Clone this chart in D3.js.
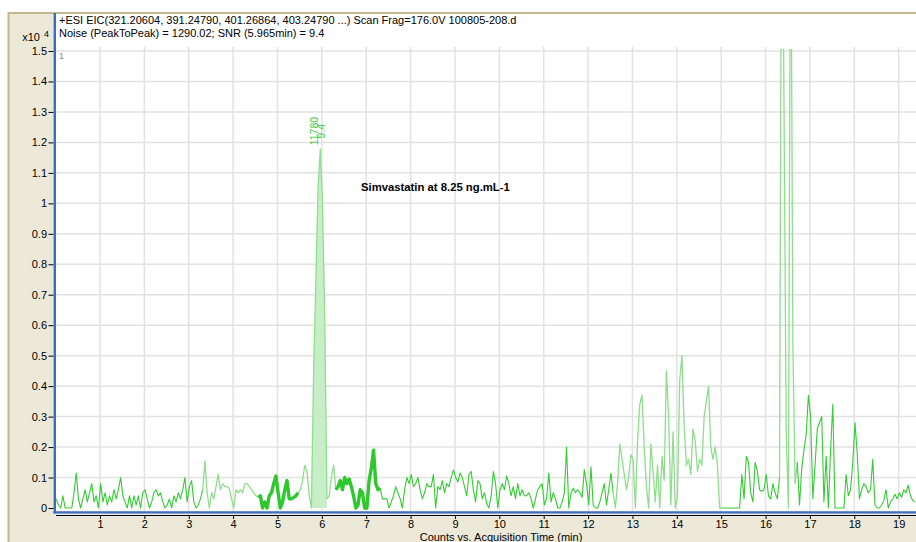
<!DOCTYPE html>
<html>
<head>
<meta charset="utf-8">
<script src="https://cdn.jsdelivr.net/npm/d3@7"></script>
<style>
  html, body { margin: 0; padding: 0; background: #fff; }
  svg { display: block; font-family: "Liberation Sans", Arial, sans-serif; }
</style>
</head>
<body>
<svg id="chart" width="916" height="542"></svg>
<script>
// Extracted ion chromatogram, intensities in counts x10^4, one scan every 0.05 min
const scanStart = 0.015;
const scanStep = 0.05;
const intensity = [
  0.03,0.01,0.00,0.04,0.00,0.00,0.00,0.00,0.05,0.115,0.03,0.00,0.03,0.06,0.02,0.05,0.08,0.02,0.04,0.00,
  0.08,0.02,0.05,0.01,0.04,0.02,0.06,0.03,0.06,0.10,0.04,0.02,0.00,0.04,0.00,0.04,0.01,0.04,0.00,0.05,
  0.06,0.03,0.00,0.02,0.05,0.06,0.04,0.05,0.02,0.00,0.01,0.03,0.00,0.04,0.02,0.05,0.03,0.06,0.10,0.02,
  0.07,0.09,0.02,0.00,0.01,0.03,0.06,0.155,0.05,0.00,0.05,0.03,0.07,0.11,0.06,0.08,0.07,0.07,0.065,0.03,
  0.00,0.06,0.05,0.06,0.05,0.08,0.08,0.07,0.06,0.05,0.04,0.035,0.04,0.00,0.02,0.00,0.04,0.05,0.08,0.105,
  0.05,0.00,0.02,0.06,0.09,0.03,0.03,0.035,0.04,0.05,0.06,0.09,0.14,0.12,0.04,0.00,0.45,0.74,1.05,1.178,
  1.00,0.62,0.03,0.04,0.10,0.14,0.06,0.07,0.09,0.06,0.10,0.08,0.095,0.07,0.04,0.00,0.01,0.06,0.05,0.00,
  0.00,0.09,0.13,0.19,0.08,0.06,0.065,0.03,0.03,0.03,0.00,0.02,0.04,0.07,0.05,0.03,0.00,0.06,0.10,0.08,
  0.11,0.07,0.08,0.10,0.06,0.03,0.05,0.08,0.07,0.07,0.11,0.00,0.07,0.06,0.09,0.05,0.08,0.07,0.10,0.125,
  0.10,0.085,0.115,0.10,0.07,0.04,0.11,0.12,0.06,0.02,0.09,0.08,0.03,0.05,0.015,0.00,0.04,0.12,0.08,0.00,
  0.06,0.08,0.06,0.105,0.08,0.04,0.07,0.03,0.08,0.04,0.06,0.04,0.04,0.05,0.03,0.00,0.03,0.06,0.07,0.08,
  0.01,0.03,0.115,0.02,0.05,0.03,0.00,0.00,0.02,0.05,0.20,0.00,0.05,0.065,0.05,0.06,0.05,0.035,0.125,0.08,
  0.01,0.135,0.01,0.00,0.00,0.02,0.05,0.08,0.01,0.06,0.115,0.05,0.00,0.08,0.21,0.16,0.11,0.06,0.10,0.175,
  0.16,0.00,0.22,0.34,0.37,0.20,0.07,0.00,0.21,0.12,0.02,0.14,0.00,0.17,0.09,0.45,0.30,0.01,0.25,0.00,
  0.04,0.42,0.50,0.27,0.14,0.16,0.11,0.26,0.22,0.12,0.16,0.14,0.30,0.35,0.40,0.20,0.16,0.20,0.14,0.00,
  0.00,0.00,0.00,0.00,0.00,0.00,0.00,0.00,0.00,0.11,0.03,0.17,0.15,0.05,0.02,0.15,0.12,0.06,0.055,0.06,
  0.11,0.04,0.03,0.08,0.05,0.03,0.10,2.40,1.33,0.25,0.00,2.20,0.54,0.08,0.15,0.01,0.13,0.19,0.24,0.37,
  0.30,0.03,0.14,0.26,0.28,0.30,0.02,0.17,0.00,0.19,0.34,0.00,0.00,0.00,0.00,0.00,0.11,0.04,0.06,0.15,
  0.28,0.18,0.03,0.06,0.08,0.07,0.05,0.06,0.16,0.01,0.00,0.00,0.01,0.025,0.06,0.00,0.02,0.03,0.045,0.03,
  0.05,0.035,0.06,0.05,0.075,0.04,0.025,0.02
];

// Axis ticks
const xTicks = [1,2,3,4,5,6,7,8,9,10,11,12,13,14,15,16,17,18,19];
const yTicks = [0,0.1,0.2,0.3,0.4,0.5,0.6,0.7,0.8,0.9,1,1.1,1.2,1.3,1.4,1.5];

// Header and annotations
const titleLines = [
  "+ESI EIC(321.20604, 391.24790, 401.26864, 403.24790 ...) Scan Frag=176.0V 100805-208.d",
  "Noise (PeakToPeak) = 1290.02; SNR (5.965min) = 9.4"
];
const xAxisTitle = "Counts vs. Acquisition Time (min)";
const compoundNote = "Simvastatin at 8.25 ng.mL-1";
const peakApexTime = 5.965;
const peakSnr = "9.4";
const peakWindow = [5.765, 6.115];

// Trace segments: noise windows are drawn heavy, some stretches paler
const noiseRegions = [[4.55, 5.45], [6.33, 7.32]];
const paleSpans = [[3.3, 4.55], [5.45, 6.33], [12.55, 15.0], [16.3, 16.7]];

const svg = d3.select("#chart");

const x = d3.scaleLinear().domain([0, 19.39]).range([55.6, 916]);
const y = d3.scaleLinear().domain([0, 1.5]).range([508, 51]);

const points = intensity.map((v, i) => ({ t: scanStart + i * scanStep, v }));

// Frame panel
svg.append("rect").attr("x", 8).attr("y", 12.5).attr("width", 908).attr("height", 530)
  .attr("fill", "#ECE9D8");
svg.append("line").attr("x1", 8).attr("x2", 916).attr("y1", 13).attr("y2", 13)
  .attr("stroke", "#C4B68E").attr("stroke-width", 2);
svg.append("line").attr("x1", 8.5).attr("x2", 8.5).attr("y1", 12).attr("y2", 542)
  .attr("stroke", "#C4B68E").attr("stroke-width", 2);

// White plotting area
svg.append("rect").attr("x", 55).attr("y", 14).attr("width", 861).attr("height", 497.5)
  .attr("fill", "#fff");

// Grid
const grid = svg.append("g").attr("stroke", "#E2E2E2").attr("stroke-width", 1.5);
grid.selectAll("line.v").data(xTicks).join("line")
  .attr("x1", d => x(d)).attr("x2", d => x(d))
  .attr("y1", 47).attr("y2", 511);
grid.selectAll("line.h").data(yTicks.filter(d => d > 0)).join("line")
  .attr("x1", 56).attr("x2", 916)
  .attr("y1", d => y(d)).attr("y2", d => y(d));

// Clip for the trace
svg.append("clipPath").attr("id", "plotClip")
  .append("rect").attr("x", 56).attr("y", 49).attr("width", 860).attr("height", 462);

const traceG = svg.append("g").attr("clip-path", "url(#plotClip)");

// Filled peak
const peakPts = points.filter(p => p.t >= peakWindow[0] - 1e-9 && p.t <= peakWindow[1] + 1e-9);
traceG.append("path").datum(peakPts)
  .attr("fill", "#C8EEC8")
  .attr("d", d3.area().x(p => x(p.t)).y0(y(0)).y1(p => y(p.v)));

// Segment styling
const inSpans = (t, spans) => spans.some(([a, b]) => t >= a && t < b);
function styleOf(t) {
  if (inSpans(t, noiseRegions)) return "noise";
  if (inSpans(t, paleSpans)) return "pale";
  return "base";
}
const styles = {
  base:  { stroke: "#33CC33", width: 1.1 },
  pale:  { stroke: "#8EDE8E", width: 1.3 },
  noise: { stroke: "#2EC82E", width: 3.4 }
};

const segments = [];
for (let i = 0; i < points.length - 1; i++) {
  const s = styleOf((points[i].t + points[i + 1].t) / 2);
  const last = segments[segments.length - 1];
  if (last && last.style === s) last.pts.push(points[i + 1]);
  else segments.push({ style: s, pts: [points[i], points[i + 1]] });
}

const line = d3.line().x(p => x(p.t)).y(p => y(p.v));
traceG.selectAll("path.seg").data(segments).join("path")
  .attr("class", "seg")
  .attr("fill", "none")
  .attr("stroke", d => styles[d.style].stroke)
  .attr("stroke-width", d => styles[d.style].width)
  .attr("stroke-linejoin", "round")
  .attr("d", d => line(d.pts));

// Blue pane borders
svg.append("line").attr("x1", 54.8).attr("x2", 54.8).attr("y1", 13).attr("y2", 513.6)
  .attr("stroke", "#3B6CC6").attr("stroke-width", 2.4);
svg.append("line").attr("x1", 53.6).attr("x2", 916).attr("y1", 512.4).attr("y2", 512.4)
  .attr("stroke", "#3B6CC6").attr("stroke-width", 2.4);

// X axis
const xAxis = d3.axisBottom(x).tickValues(xTicks).tickSize(3.5).tickPadding(1.5)
  .tickFormat(d3.format("d"));
const gx = svg.append("g").attr("transform", "translate(0,515.5)").call(xAxis);
gx.select(".domain").attr("d", "M56,0H916").attr("stroke", "#000");
gx.selectAll(".tick line").attr("stroke", "#000");
gx.selectAll(".tick text").attr("font-size", 11).attr("fill", "#000")
  .attr("font-family", "Liberation Sans, Arial, sans-serif");

// Y axis
const yAxis = d3.axisLeft(y).tickValues(yTicks).tickSize(5).tickPadding(1.5)
  .tickFormat(d => d === 0 ? "0" : d3.format("")(d));
const gy = svg.append("g").attr("transform", "translate(53.5,0)").call(yAxis);
gy.select(".domain").remove();
gy.selectAll(".tick line").attr("stroke", "#000");
gy.selectAll(".tick text").attr("font-size", 11).attr("fill", "#000")
  .attr("font-family", "Liberation Sans, Arial, sans-serif");

// Exponent label
svg.append("text").attr("x", 40).attr("y", 41).attr("text-anchor", "end")
  .attr("font-size", 11).attr("fill", "#000").text("x10");
svg.append("text").attr("x", 44).attr("y", 37)
  .attr("font-size", 9).attr("fill", "#000").text("4");

// Pane index
svg.append("text").attr("x", 59).attr("y", 59)
  .attr("font-size", 9).attr("fill", "#888").text("1");

// Header lines
svg.selectAll("text.title").data(titleLines).join("text")
  .attr("class", "title")
  .attr("x", 59).attr("y", (d, i) => 24 + i * 12.5)
  .attr("font-size", 11).attr("fill", "#000")
  .text(d => d);

// Peak labels (height in counts and S/N)
const apex = points.reduce((a, b) => Math.abs(b.t - peakApexTime) < Math.abs(a.t - peakApexTime) ? b : a);
const labelY = y(apex.v) - 18;
svg.append("text")
  .attr("transform", `translate(${x(apex.t) - 2.5},${labelY}) rotate(-90)`)
  .attr("text-anchor", "middle").attr("font-size", 10.5).attr("fill", "#3CCB3C")
  .text(d3.format("d")(Math.round(apex.v * 1e4)));
svg.append("text")
  .attr("transform", `translate(${x(apex.t) + 4.5},${labelY}) rotate(-90)`)
  .attr("text-anchor", "middle").attr("font-size", 10.5).attr("fill", "#3CCB3C")
  .text(peakSnr);

// Compound annotation
svg.append("text").attr("x", 361).attr("y", 191)
  .attr("font-size", 11.3).attr("font-weight", "bold").attr("fill", "#000")
  .text(compoundNote);

// X axis title
svg.append("text").attr("x", 501).attr("y", 540.5).attr("text-anchor", "middle")
  .attr("font-size", 11).attr("fill", "#000").text(xAxisTitle);
</script>
</body>
</html>
